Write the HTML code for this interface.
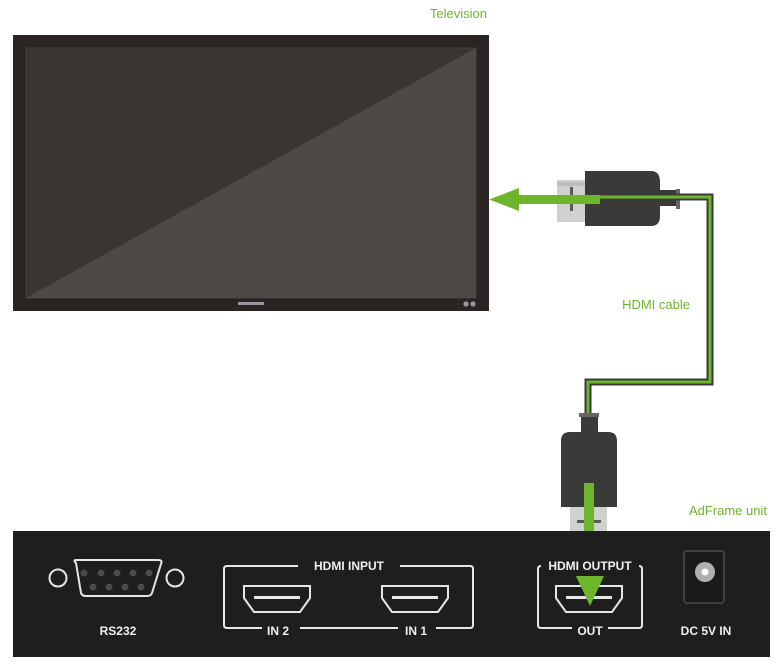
<!DOCTYPE html>
<html><head><meta charset="utf-8"><style>
html,body{margin:0;padding:0;background:#fff;width:777px;height:665px;overflow:hidden}
svg{display:block}
text{font-family:"Liberation Sans",sans-serif}
</style></head><body>
<svg width="777" height="665" viewBox="0 0 777 665" xmlns="http://www.w3.org/2000/svg">
<text x="487" y="18" text-anchor="end" font-size="13" fill="#6db52b">Television</text>
<rect x="13" y="35" width="476" height="276" fill="#2a2522"/>
<rect x="26" y="48" width="450" height="250" fill="#3a3433" stroke="#4a4442" stroke-width="0.8"/>
<polygon points="26,298 476,48 476,298" fill="#4e4945"/>
<rect x="238" y="302" width="26" height="3" fill="#9a96a0"/>
<circle cx="466" cy="304" r="2.6" fill="#9a96a0"/><circle cx="473" cy="304" r="2.6" fill="#9a96a0"/>
<!-- top connector -->
<rect x="557" y="180" width="30" height="42" fill="#d0d0ce"/>
<rect x="557" y="182" width="30" height="4" fill="#bdbdbb"/>
<rect x="570" y="187" width="3" height="24" fill="#5a5a58"/>
<path d="M585,171 H651 Q660,171 660,182 V216 Q660,226 651,226 H585 Z" fill="#3a3a38"/>
<rect x="660" y="190" width="17" height="16" fill="#3a3a38"/>
<rect x="676" y="189" width="4" height="20" fill="#666"/>
<!-- cable -->
<path d="M600,197 H710 V382 H588 V490" fill="none" stroke="#3a3a38" stroke-width="7"/>
<path d="M600,197 H710 V382 H588 V490" fill="none" stroke="#6db52b" stroke-width="3"/>
<!-- top arrow -->
<rect x="518" y="195" width="82" height="9" fill="#6db52b"/>
<polygon points="489,199.5 519,188 519,211" fill="#6db52b"/>
<text x="690" y="309" text-anchor="end" font-size="13" fill="#6db52b">HDMI cable</text>
<!-- bottom connector -->
<rect x="579" y="413" width="20" height="4" fill="#666"/>
<rect x="581" y="417" width="17" height="16" fill="#3a3a38"/>
<path d="M561,507 V441 Q561,432 570,432 H608 Q617,432 617,441 V507 Z" fill="#3a3a38"/>
<rect x="570" y="507" width="37" height="25" fill="#d0d0ce"/>
<rect x="577" y="520" width="24" height="3" fill="#5a5a58"/>
<rect x="584" y="483" width="10" height="95" fill="#6db52b"/>
<text x="767" y="515" text-anchor="end" font-size="13" fill="#6db52b">AdFrame unit</text>
<!-- panel -->
<rect x="13" y="531" width="757" height="126" fill="#1e1e1e"/>
<g fill="none" stroke="#e6e6e6" stroke-width="2">
<circle cx="58" cy="578" r="8.5"/><circle cx="175" cy="578" r="8.5"/>
<path d="M76,563 Q73,560 76,560 H158 Q163,560 161,564 L152,593 Q151,596 147,596 H86 Q82,596 81,593 Z"/>
<path d="M298,566 H227 Q224,566 224,569 V625 Q224,628 227,628 H262"/>
<path d="M300,628 H398"/><path d="M436,628 H470 Q473,628 473,625 V569 Q473,566 470,566 H400"/>
<path d="M541,566 Q538,566 538,569 V625 Q538,628 541,628 H572"/>
<path d="M608,628 H639 Q642,628 642,625 V569 Q642,566 639,566"/>
<path d="M244,586 H310 V598 L300,612 H254 L244,598 Z"/>
<path d="M382,586 H448 V598 L438,612 H392 L382,598 Z"/>
<path d="M556,586 H622 V598 L612,612 H566 L556,598 Z"/>
</g>
<g fill="#4a4a4a">
<circle cx="84" cy="573" r="3.5"/><circle cx="101" cy="573" r="3.5"/><circle cx="117" cy="573" r="3.5"/><circle cx="133" cy="573" r="3.5"/><circle cx="149" cy="573" r="3.5"/>
<circle cx="93" cy="587" r="3.5"/><circle cx="109" cy="587" r="3.5"/><circle cx="125" cy="587" r="3.5"/><circle cx="141" cy="587" r="3.5"/>
</g>
<g fill="#e6e6e6"><rect x="254" y="596" width="46" height="3"/><rect x="392" y="596" width="46" height="3"/><rect x="566" y="596" width="46" height="3"/></g>
<g font-size="12" font-weight="bold" fill="#f0f0f0" text-anchor="middle">
<text x="118" y="635">RS232</text>
<text x="349" y="570">HDMI INPUT</text>
<text x="278" y="635">IN 2</text>
<text x="416" y="635">IN 1</text>
<text x="590" y="570">HDMI OUTPUT</text>
<text x="590" y="635">OUT</text>
<text x="706" y="635">DC 5V IN</text>
</g>
<rect x="684" y="551" width="40" height="52" rx="3" fill="#1a1a1a" stroke="#4a4a4a" stroke-width="1.5"/>
<circle cx="705" cy="572" r="10" fill="#b0b0b0"/><circle cx="705" cy="572" r="3.5" fill="#fff"/>
<!-- bottom arrow head -->
<polygon points="576,576 604,576 590,606" fill="#6db52b"/>
</svg>
</body></html>
